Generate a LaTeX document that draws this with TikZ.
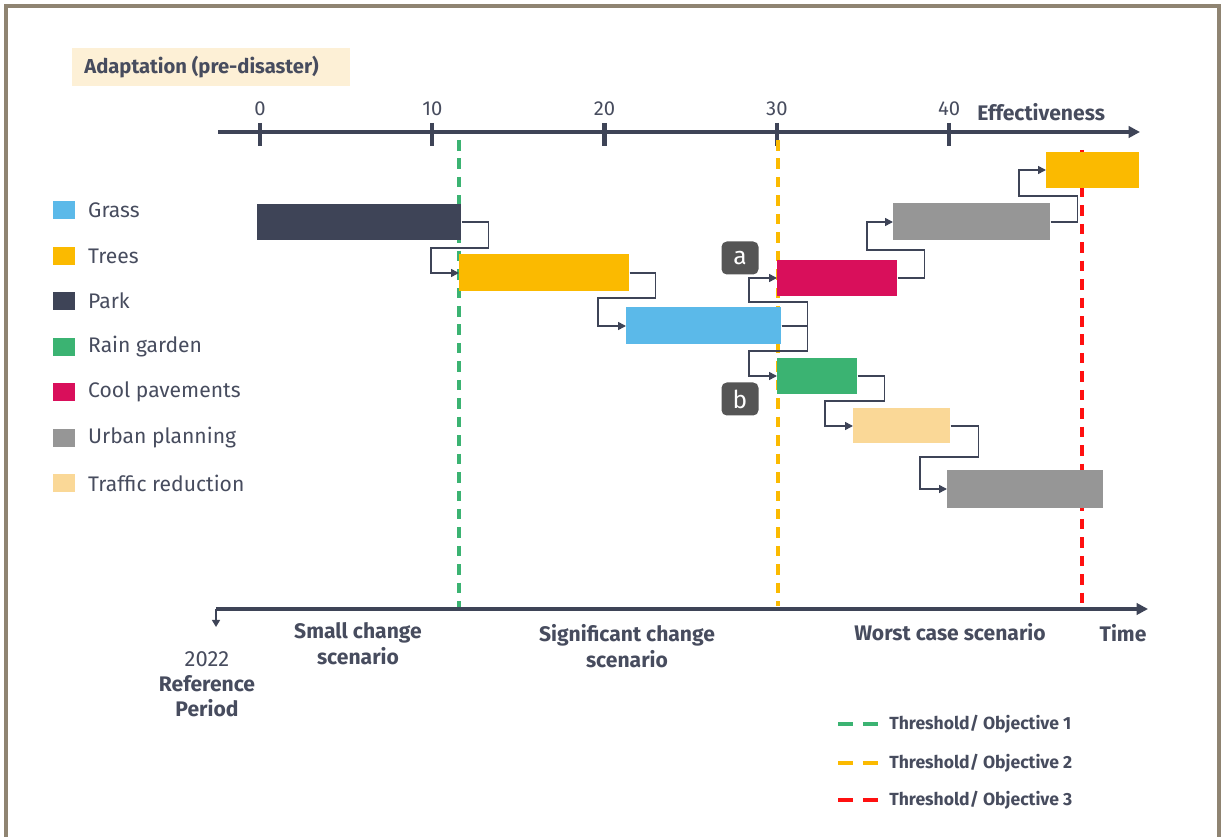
\documentclass[tikz,border=0pt]{standalone}
\usepackage{fontspec}
\setmainfont{Fira Sans}
\usepackage{xcolor}
\usepackage{tikz}
\usetikzlibrary{arrows.meta,calc,positioning}

\definecolor{navy}{HTML}{3E4457}
\definecolor{txtc}{HTML}{474C5E}
\definecolor{treesc}{HTML}{FBBA00}
\definecolor{grassc}{HTML}{5BB9E9}
\definecolor{coolc}{HTML}{D90F5B}
\definecolor{rainc}{HTML}{3BB372}
\definecolor{urbanc}{HTML}{969696}
\definecolor{trafficc}{HTML}{FAD897}
\definecolor{creamc}{HTML}{FDF0D6}
\definecolor{framec}{HTML}{8F8472}
\definecolor{tagc}{HTML}{555555}
\definecolor{redc}{HTML}{FF1010}

\begin{document}
\begin{tikzpicture}[x=0.02cm,y=-0.02cm,
  every node/.style={text=txtc},
  bar/.style={rectangle,inner sep=0pt,minimum height=0.74cm,anchor=west},
  link/.style={draw=navy,line width=0.85pt,-{Triangle[length=4.5pt,width=4.5pt]}},
  axis/.style={draw=navy,line width=2pt,-{Triangle[length=6.5pt,width=6.5pt]}},
  tick/.style={draw=navy,line width=2.4pt},
  limit/.style={line width=2.2pt,dash pattern=on 6pt off 4.5pt},
  key/.style={rectangle,inner sep=0pt,minimum width=0.46cm,minimum height=0.36cm},
  keytext/.style={anchor=west,inner sep=0pt,font=\fontsize{12}{14}\selectfont},
  bold/.style={font=\fontsize{12}{15}\selectfont\bfseries,align=center},
  tag/.style={rectangle,rounded corners=3pt,fill=tagc,minimum width=0.74cm,minimum height=0.66cm,inner sep=0pt,text=white,font=\fontsize{14}{14}\selectfont}]
\useasboundingbox (0,0) rectangle (1225,837);
\draw[framec,line width=1.8pt](6,845)--(6,6)--(1219,6)--(1219,845);

% header
\node[fill=creamc,minimum width=5.56cm,minimum height=0.76cm,anchor=west,inner sep=0pt] (head) at (72,67) {};
\node[anchor=west,inner sep=0pt,font=\fontsize{11.5}{12}\selectfont\bfseries] at (head.west) [xshift=0.24cm] {Adaptation (pre-disaster)};

% effectiveness axis
\coordinate (e0) at (218,132);
\coordinate (e1) at (1140,132);
\draw[axis] (e0) -- (e1);
\foreach \v in {0,10,20,30,40}{
  \draw[tick] (260+17.23*\v,123) -- (260+17.23*\v,146);
  \node[font=\fontsize{11.5}{12}\selectfont] at (260+17.23*\v,109) {\v};
}
\node[bold,anchor=west,inner sep=0pt] (eff) at (977,112) {Effectiveness};

% thresholds
\draw[limit,rainc] (459,140) -- (459,610);
\draw[limit,treesc] (778,140) -- (778,606);
\draw[limit,redc] (1082,150) -- (1082,610);

% time axis
\coordinate (t0) at (216,609);
\coordinate (t1) at (1148,609);
\draw[axis] (t0) -- (t1);
\coordinate (ref) at (216,627);
\draw[navy,line width=0.9pt,-{Triangle[length=4pt,width=4.5pt]}] (t0) -- (ref);

% measures
\node[bar,fill=navy,minimum width=4.08cm,minimum height=0.72cm] (park) at (257,222) {};
\node[bar,fill=treesc,minimum width=3.40cm] (trees) at (459,273) {};
\node[bar,fill=grassc,minimum width=3.10cm] (grass) at (626,326) {};
\node[bar,fill=coolc,minimum width=2.40cm,minimum height=0.72cm] (cool) at (777,278) {};
\node[bar,fill=rainc,minimum width=1.60cm,minimum height=0.72cm] (rain) at (777,376) {};
\node[bar,fill=urbanc,minimum width=3.14cm] (urban) at (893,222) {};
\node[bar,fill=treesc,minimum width=1.86cm,minimum height=0.72cm] (treestop) at (1046,170) {};
\node[bar,fill=trafficc,minimum width=1.94cm,minimum height=0.70cm] (traffic) at (853,426) {};
\node[bar,fill=urbanc,minimum width=3.12cm,minimum height=0.78cm] (urbanlow) at (947,489) {};

\node[tag] (a) at (740,258) {a};
\node[tag] (b) at (740,399) {b};

% pathways
\draw[link] (park.east) -- ++(27,0) |- ($(trees.west)+(-28,-25)$) |- (trees.west);
\draw[link] (trees.east) -- ++(26,0) |- ($(grass.west)+(-28,-28)$) |- (grass.west);
\draw[link] (grass.east) -- ++(26,0) |- ($(cool.west)+(-28,24)$) |- (cool.west);
\draw[link] (grass.east) -- ++(26,0) |- ($(rain.west)+(-28,-25)$) |- (rain.west);
\draw[link] (cool.east) -- ++(27,0) |- ($(urban.west)+(-26,28)$) |- (urban.west);
\draw[link] (urban.east) -- ++(27,0) |- ($(treestop.west)+(-27,26)$) |- (treestop.west);
\draw[link] (rain.east) -- ++(27,0) |- ($(traffic.west)+(-28,-25)$) |- (traffic.west);
\draw[link] (traffic.east) -- ++(28,0) |- ($(urbanlow.west)+(-27,-32)$) |- (urbanlow.west);

% legend
\node[key,fill=grassc] (kgrass) at (64,210) {};
\node[keytext,right=0.24cm of kgrass] {Grass};
\node[key,fill=treesc] (ktrees) at (64,256) {};
\node[keytext,right=0.24cm of ktrees] {Trees};
\node[key,fill=navy] (kpark) at (64,301) {};
\node[keytext,right=0.24cm of kpark] {Park};
\node[key,fill=rainc] (krain) at (64,347) {};
\node[keytext,right=0.24cm of krain] {Rain garden};
\node[key,fill=coolc] (kcool) at (64,392) {};
\node[keytext,right=0.24cm of kcool] {Cool pavements};
\node[key,fill=urbanc] (kurban) at (64,438) {};
\node[keytext,right=0.24cm of kurban] {Urban planning};
\node[key,fill=trafficc] (ktraffic) at (64,483) {};
\node[keytext,right=0.24cm of ktraffic] {Traffic reduction};

% scenarios
\node[bold] (small) at (358,644) {Small change\\scenario};
\node[bold] (sig) at (627,646) {Significant change\\scenario};
\node[bold] (worst) at (950,632) {Worst case scenario};
\node[bold] (time) at (1123,633) {Time};
\node[font=\fontsize{12.5}{13}\selectfont,inner sep=0pt] (year) at (207,659) {2022};
\node[bold,below=0.04cm of year,font=\fontsize{12}{14.5}\selectfont\bfseries] (period) {Reference\\Period};

% threshold key
\foreach \c/\n/\y in {rainc/1/724,treesc/2/763,redc/3/800}{
  \coordinate (k\n) at (838,\y);
  \draw[\c,line width=2.3pt,dash pattern=on 8.5pt off 5.7pt] (k\n) -- ++(40,0);
  \node[anchor=west,inner sep=0pt,font=\fontsize{10}{11}\selectfont\bfseries] at (889,\y) {Threshold/ Objective \n};
}
\end{tikzpicture}
\end{document}
